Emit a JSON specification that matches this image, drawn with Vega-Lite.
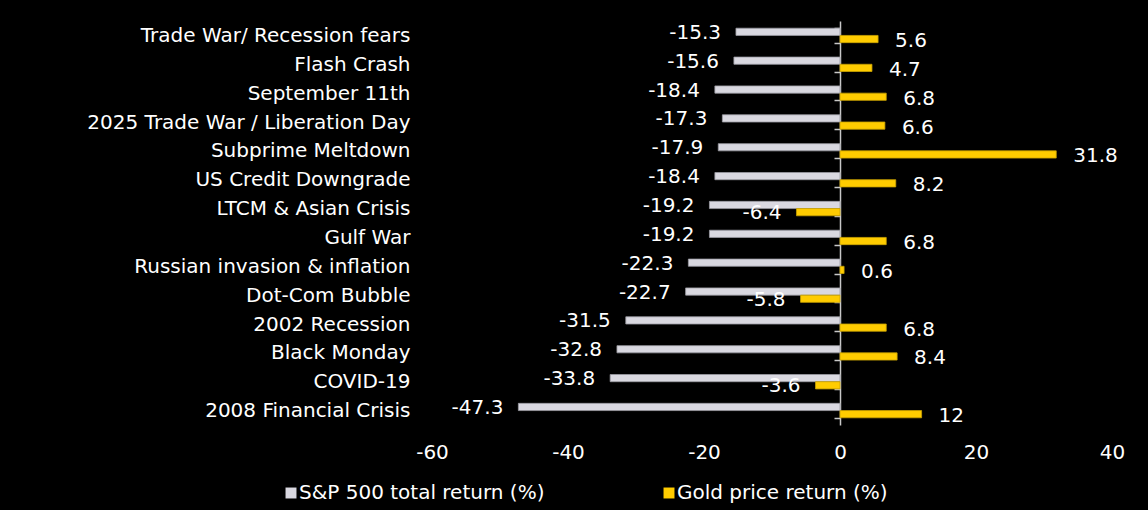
{
  "$schema": "https://vega.github.io/schema/vega-lite/v6.json",
  "width": 680,
  "height": 404,
  "autosize": {"type": "none"},
  "padding": {"left": 432, "top": 21, "right": 36, "bottom": 85},
  "background": "black",
  "config": {
    "view": {"stroke": null},
    "font": "DejaVu Sans",
    "locale": {"number": {"decimal": ".", "thousands": ",", "grouping": [3], "currency": ["$", ""], "minus": "-"}}
  },
  "data": {
    "values": [
      {"event": "Trade War/ Recession fears", "series": "S&P 500 total return (%)", "value": -15.3},
      {"event": "Trade War/ Recession fears", "series": "Gold price return (%)", "value": 5.6},
      {"event": "Flash Crash", "series": "S&P 500 total return (%)", "value": -15.6},
      {"event": "Flash Crash", "series": "Gold price return (%)", "value": 4.7},
      {"event": "September 11th", "series": "S&P 500 total return (%)", "value": -18.4},
      {"event": "September 11th", "series": "Gold price return (%)", "value": 6.8},
      {"event": "2025 Trade War / Liberation Day", "series": "S&P 500 total return (%)", "value": -17.3},
      {"event": "2025 Trade War / Liberation Day", "series": "Gold price return (%)", "value": 6.6},
      {"event": "Subprime Meltdown", "series": "S&P 500 total return (%)", "value": -17.9},
      {"event": "Subprime Meltdown", "series": "Gold price return (%)", "value": 31.8},
      {"event": "US Credit Downgrade", "series": "S&P 500 total return (%)", "value": -18.4},
      {"event": "US Credit Downgrade", "series": "Gold price return (%)", "value": 8.2},
      {"event": "LTCM & Asian Crisis", "series": "S&P 500 total return (%)", "value": -19.2},
      {"event": "LTCM & Asian Crisis", "series": "Gold price return (%)", "value": -6.4},
      {"event": "Gulf War", "series": "S&P 500 total return (%)", "value": -19.2},
      {"event": "Gulf War", "series": "Gold price return (%)", "value": 6.8},
      {"event": "Russian invasion & inflation", "series": "S&P 500 total return (%)", "value": -22.3},
      {"event": "Russian invasion & inflation", "series": "Gold price return (%)", "value": 0.6},
      {"event": "Dot-Com Bubble", "series": "S&P 500 total return (%)", "value": -22.7},
      {"event": "Dot-Com Bubble", "series": "Gold price return (%)", "value": -5.8},
      {"event": "2002 Recession", "series": "S&P 500 total return (%)", "value": -31.5},
      {"event": "2002 Recession", "series": "Gold price return (%)", "value": 6.8},
      {"event": "Black Monday", "series": "S&P 500 total return (%)", "value": -32.8},
      {"event": "Black Monday", "series": "Gold price return (%)", "value": 8.4},
      {"event": "COVID-19", "series": "S&P 500 total return (%)", "value": -33.8},
      {"event": "COVID-19", "series": "Gold price return (%)", "value": -3.6},
      {"event": "2008 Financial Crisis", "series": "S&P 500 total return (%)", "value": -47.3},
      {"event": "2008 Financial Crisis", "series": "Gold price return (%)", "value": 12}
    ]
  },
  "encoding": {
    "y": {
      "field": "event",
      "type": "nominal",
      "sort": null,
      "scale": {"paddingInner": 0.5, "paddingOuter": 0.25},
      "title": null,
      "axis": {
        "orient": "left", "offset": -408,
        "domain": true, "domainColor": "#c8c8c8", "domainWidth": 1.5,
        "ticks": true, "tickColor": "#c8c8c8", "tickWidth": 1.5, "tickSize": 6, "tickBand": "extent",
        "labelColor": "white", "labelFontSize": 20, "labelPadding": 424, "labelLimit": 0
      }
    },
    "yOffset": {
      "field": "series",
      "type": "nominal",
      "sort": ["S&P 500 total return (%)", "Gold price return (%)"],
      "scale": {"paddingInner": 0, "paddingOuter": 0}
    },
    "x": {
      "field": "value",
      "type": "quantitative",
      "scale": {"domain": [-60, 40], "nice": false},
      "title": null,
      "axis": {"values": [-60, -40, -20, 0, 20, 40], "domain": false, "ticks": false, "grid": false, "labelFlush": false, "labelColor": "white", "labelFontSize": 20, "labelPadding": 17}
    }
  },
  "layer": [
    {
      "mark": {"type": "bar", "strokeWidth": 0.8},
      "encoding": {
        "color": {
          "field": "series",
          "type": "nominal",
          "scale": {"domain": ["S&P 500 total return (%)", "Gold price return (%)"], "range": ["#d9d8e0", "#ffcc00"]},
          "legend": {
            "title": null, "orient": "none", "direction": "horizontal", "legendX": -151, "legendY": 462,
            "symbolType": "square", "symbolSize": 120, "symbolStrokeWidth": 0, "symbolOpacity": 1,
            "labelColor": "white", "labelFontSize": 20, "columnPadding": 114, "labelOffset": -2, "labelLimit": 0
          }
        },
        "stroke": {
          "field": "series",
          "type": "nominal",
          "scale": {"domain": ["S&P 500 total return (%)", "Gold price return (%)"], "range": ["#9a9aa2", "#c9a200"]},
          "legend": null
        }
      }
    },
    {
      "transform": [{"filter": "datum.value < 0"}],
      "mark": {"type": "text", "align": "right", "baseline": "middle", "dx": -15, "dy": 1, "color": "white", "fontSize": 20},
      "encoding": {
        "text": {"field": "value", "type": "nominal"}
      }
    },
    {
      "transform": [{"filter": "datum.value >= 0"}],
      "mark": {"type": "text", "align": "left", "baseline": "middle", "dx": 17, "dy": 2, "color": "white", "fontSize": 20},
      "encoding": {
        "text": {"field": "value", "type": "nominal"}
      }
    }
  ]
}
